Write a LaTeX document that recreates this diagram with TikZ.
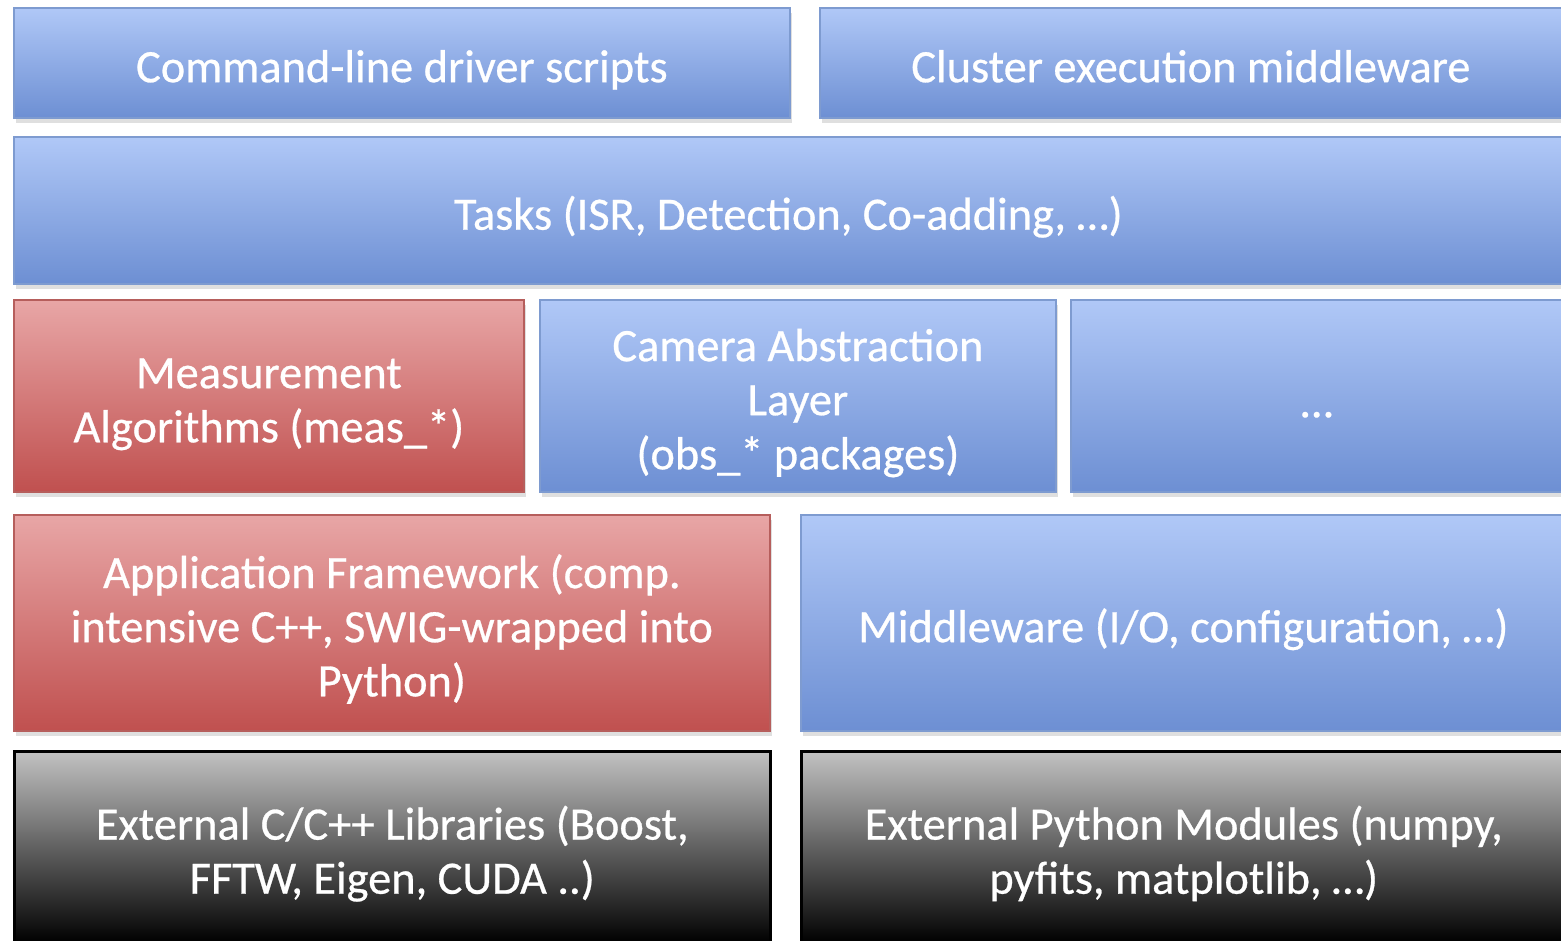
\documentclass[tikz,border=0pt]{standalone}
\usepackage{fontspec}
\setmainfont{Carlito}
\newfontfamily\layerfont{Carlito}[FakeBold=0.6]
\usetikzlibrary{shadows}
\definecolor{bluetop}{HTML}{B0C8F7}
\definecolor{bluebot}{HTML}{6D8FD3}
\definecolor{blueline}{HTML}{7E9BD0}
\definecolor{redtop}{HTML}{E8A6A6}
\definecolor{redbot}{HTML}{C0504F}
\definecolor{redline}{HTML}{B65E5C}
\definecolor{graytop}{HTML}{C2C2C2}
\tikzset{
  layer/.style={rectangle, anchor=north west, inner sep=0pt, line width=0.5pt,
    drop shadow={shadow xshift=0.02cm, shadow yshift=-0.05cm, opacity=0.25}},
  lbl/.style={align=center, text=white, inner sep=0pt, yshift=-0.085cm,
    font=\layerfont\fontsize{13.2}{15.4}\selectfont},
  bluebox/.style={layer, draw=blueline, top color=bluetop, bottom color=bluebot},
  redbox/.style={layer, draw=redline, top color=redtop, bottom color=redbot},
  darkbox/.style={layer, draw=black, line width=0.75pt, top color=graytop, bottom color=black},
}
\begin{document}
\begin{tikzpicture}
\useasboundingbox (0,0) rectangle (15.61,-9.40);
\clip (0,0) rectangle (15.61,-9.40);
\fill[white] (0,0) rectangle (15.61,-9.40);
\node[bluebox, minimum width=7.76cm, minimum height=1.10cm,
  label={[lbl]center:{\strut Command-line driver scripts}}] (cmd) at (0.13,-0.07) {};
\node[bluebox, minimum width=7.60cm, minimum height=1.10cm,
  label={[lbl, xshift=-0.09cm]center:{\strut Cluster execution middleware}}] (cluster) at (8.19,-0.07) {};
\node[bluebox, minimum width=15.60cm, minimum height=1.47cm,
  label={[lbl, xshift=-0.055cm]center:{\strut Tasks (ISR, Detection, Co-adding, …)}}] (tasks) at (0.13,-1.36) {};
\node[redbox, minimum width=5.10cm, minimum height=1.92cm,
  label={[lbl]center:{\strut Measurement\\\strut Algorithms (meas\_*)}}] (meas) at (0.13,-2.99) {};
\node[bluebox, minimum width=5.16cm, minimum height=1.92cm,
  label={[lbl]center:{\strut Camera Abstraction\\\strut Layer\\\strut (obs\_* packages)}}] (cam) at (5.39,-2.99) {};
\node[bluebox, minimum width=5.10cm, minimum height=1.92cm,
  label={[lbl, xshift=-0.09cm, yshift=-0.02cm]center:{\strut …}}] (more) at (10.70,-2.99) {};
\node[redbox, minimum width=7.56cm, minimum height=2.16cm,
  label={[lbl]center:{\strut Application Framework (comp.\\\strut intensive C++, SWIG-wrapped into\\\strut Python)}}] (app) at (0.13,-5.14) {};
\node[bluebox, minimum width=7.90cm, minimum height=2.16cm,
  label={[lbl, xshift=-0.125cm]center:{\strut Middleware (I/O, configuration, …)}}] (mid) at (8.00,-5.14) {};
\node[darkbox, minimum width=7.56cm, minimum height=1.92cm,
  label={[lbl]center:{\strut External C/C++ Libraries (Boost,\\\strut FFTW, Eigen, CUDA ..)}}] (extc) at (0.13,-7.50) {};
\node[darkbox, minimum width=7.90cm, minimum height=1.92cm,
  label={[lbl, xshift=-0.125cm]center:{\strut External Python Modules (numpy,\\\strut pyfits, matplotlib, …)}}] (extpy) at (8.00,-7.50) {};
\end{tikzpicture}
\end{document}
